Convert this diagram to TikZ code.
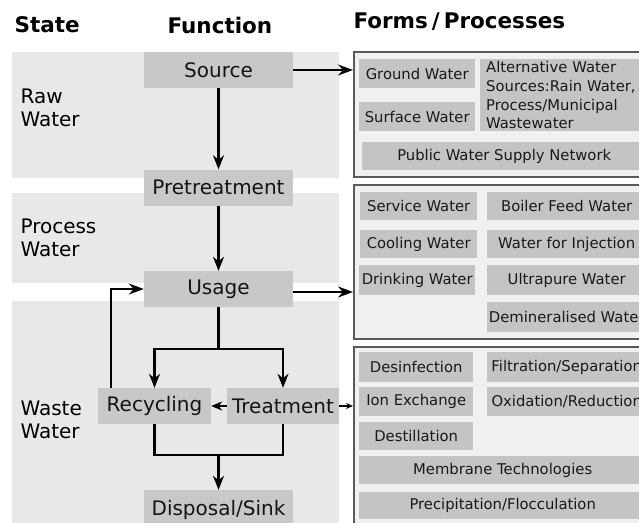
\documentclass[tikz,border=0pt]{standalone}
\usepackage{fontspec}
\setmainfont{DejaVu Sans}
\usetikzlibrary{arrows.meta}

\definecolor{bandgray}{HTML}{E8E8E8}
\definecolor{funcgray}{HTML}{C8C8C8}
\definecolor{panelgray}{HTML}{F0F0F0}
\definecolor{formgray}{HTML}{C4C4C4}
\definecolor{framegray}{HTML}{5A5A5A}

\newcommand{\headfont}{\fontsize{21.5}{24}\selectfont\bfseries}
\newcommand{\funcfont}{\fontsize{20}{23}\selectfont}
\newcommand{\formfont}{\fontsize{14.8}{18.7}\selectfont}

\tikzset{
  band/.style={fill=bandgray, draw=none},
  panel/.style={fill=panelgray, draw=framegray, line width=1.5pt},
  func/.style={fill=funcgray, inner sep=0pt, minimum height=36pt, font=\funcfont, text=black!92},
  form/.style={fill=formgray, inner sep=0pt, anchor=north west, font=\formfont, text=black!90},
  flow/.style={line width=2.5pt, -{Stealth[length=14pt,width=11pt]}},
  feed/.style={line width=1.6pt, -{Stealth[length=15pt,width=11pt]}},
  tiny/.style={line width=1.3pt, -{Stealth[length=7pt,width=6pt]}},
}

\begin{document}
\begin{tikzpicture}[x=1pt, y=-1pt]
        \useasboundingbox (0,0) rectangle (639,522);

        % Draw the state bands
        \fill[band] (12,52) rectangle (339,178);
        \fill[band] (12,193) rectangle (339,283);
        \fill[band] (12,301) rectangle (339,535);

        % Add headings
        \node[anchor=west, font=\headfont] (hstate) at (11,25) {State};
        \node[anchor=west, font=\headfont] (hfunc) at (164,25) {Function};
        \node[anchor=west, font=\headfont] (hforms) at (350,22) {Forms\kern4pt/\kern4pt Processes};

        % Add state labels
        \node[anchor=west, align=left, font=\funcfont] (raw) at (17,108) {Raw\\Water};
        \node[anchor=west, align=left, font=\funcfont] (process) at (17,238) {Process\\Water};
        \node[anchor=west, align=left, font=\funcfont] (waste) at (17,420) {Waste\\Water};

        % Draw the function boxes
        \node[func, minimum width=149pt] (source) at (218.5,70) {Source};
        \node[func, minimum width=149pt] (pretreat) at (218.5,187.5) {Pretreatment};
        \node[func, minimum width=149pt] (usage) at (218.5,289) {Usage};
        \node[func, minimum width=113pt] (recycling) at (154.5,406) {Recycling};
        \node[func, minimum width=112pt] (treatment) at (283,406) {Treatment};
        \node[func, minimum width=149pt, minimum height=40pt] (disposal) at (218.5,510) {Disposal/Sink};

        % Draw the panels
        \draw[panel] (354,52) rectangle (655,177);
        \draw[panel] (354,185) rectangle (655,339);
        \draw[panel] (354,347) rectangle (655,535);

        % Forms of raw water
        \node[form, minimum width=116pt, minimum height=29pt] (ground) at (359,59) {Ground Water};
        \node[form, minimum width=116pt, minimum height=29pt] (surface) at (359,102) {Surface Water};
        \node[form, minimum height=72pt, text width=154pt, inner xsep=6pt, align=left] (altsrc) at (480,59)
          {Alternative Water\\Sources:Rain Water,\\Process/Municipal\\Wastewater};
        \node[form, minimum width=284pt, minimum height=28pt] (publicnet) at (362,142) {Public Water Supply Network};

        % Forms of process water
        \node[form, minimum width=117pt, minimum height=28pt] (service) at (360,192) {Service Water};
        \node[form, minimum width=159pt, minimum height=28pt] (boiler) at (487,192) {Boiler Feed Water};
        \node[form, minimum width=117pt, minimum height=28pt] (cooling) at (360,230) {Cooling Water};
        \node[form, minimum width=159pt, minimum height=28pt] (injection) at (487,230) {Water for Injection};
        \node[form, minimum width=116pt, minimum height=30pt] (drinking) at (359,265) {Drinking Water};
        \node[form, minimum width=159pt, minimum height=30pt] (ultrapure) at (487,265) {Ultrapure Water};
        \node[form, minimum width=159pt, minimum height=30pt] (demin) at (487,302) {Demineralised Water};

        % Treatment processes
        \node[form, minimum width=114pt, minimum height=30pt] (desinf) at (359,352) {Desinfection};
        \node[form, minimum width=159pt, minimum height=30pt] (filtration) at (487,352) {Filtration/Separation};
        \node[form, minimum width=114pt, minimum height=29pt] (ionex) at (359,387) {Ion Exchange};
        \node[form, minimum width=159pt, minimum height=29pt] (oxidation) at (487,387) {Oxidation/Reduction};
        \node[form, minimum width=114pt, minimum height=28pt] (destill) at (359,422) {Destillation};
        \node[form, minimum width=287pt, minimum height=28pt] (membrane) at (359,456) {Membrane Technologies};
        \node[form, minimum width=287pt, minimum height=27pt] (precip) at (359,492) {Precipitation/Flocculation};

        % Branch points
        \coordinate (split) at (218.5,349);
        \coordinate (merge) at (218.5,455);
        \coordinate (panelone) at (353,70);
        \coordinate (paneltwo) at (353,292);
        \coordinate (panelthree) at (353,406);

        % Draw the flow
        \draw[flow] (source) -- (pretreat);
        \draw[flow] (pretreat) -- (usage);
        \draw[line width=2.5pt] (usage) -- (split);
        \draw[flow] (split) -| (recycling);
        \draw[flow] (split) -| (treatment);
        \draw[line width=2.5pt] (recycling) |- (merge) -| (treatment);
        \draw[flow] (merge) -- (disposal);
        \draw[feed, line width=2pt] ([xshift=-43.5pt]recycling.north) |- (usage.west);
        \draw[tiny, line width=1.6pt, -{Stealth[length=11pt,width=9pt]}] (treatment) -- (recycling);

        % Arrows to the panels
        \draw[feed] (source) -- (panelone);
        \draw[feed] (usage.east |- paneltwo) -- (paneltwo);
        \draw[tiny] (treatment) -- (panelthree);
    \end{tikzpicture}
\end{document}
